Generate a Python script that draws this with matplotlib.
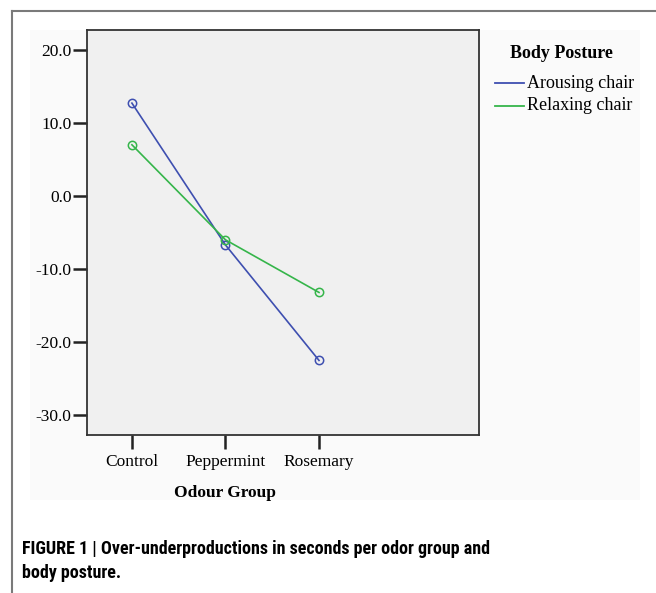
import matplotlib.pyplot as plt
from matplotlib.lines import Line2D
from matplotlib.patches import Rectangle

groups = ['Control', 'Peppermint', 'Rosemary']
arousing = [12.7, -6.7, -22.5]
relaxing = [7.0, -6.0, -13.2]
y_ticks = [20.0, 10.0, 0.0, -10.0, -20.0, -30.0]

BLUE = '#3e4fb0'
GREEN = '#35b54a'
SERIF = 'Liberation Serif'

fig = plt.figure(figsize=(6.56, 5.93), dpi=100)
W, H = 656, 593

def fx(px):
    return px / W

def fy(py):
    return 1 - py / H

# off-white chart region and outer frame
fig.patches.append(Rectangle((fx(30), fy(500)), fx(610), 470 / H, transform=fig.transFigure,
                             facecolor='#fafafa', edgecolor='none', zorder=-5))
fig.add_artist(Line2D([fx(12), fx(12)], [fy(11), 0], color='#7a7a7a', lw=1.5))
fig.add_artist(Line2D([fx(12), 1], [fy(11), fy(11)], color='#7a7a7a', lw=1.5))

ax = fig.add_axes([fx(87), fy(435), fx(479 - 87), (435 - 30) / H])
ax.set_zorder(2)
ax.set_facecolor('#f0f0f0')
x = range(1, len(groups) + 1)
ax.plot(x, arousing, color=BLUE, lw=1.2, marker='o', mfc='none', ms=6, mew=1.1, label='Arousing chair')
ax.plot(x, relaxing, color=GREEN, lw=1.2, marker='o', mfc='none', ms=6, mew=1.1, label='Relaxing chair')

ax.set_xlim(0.52, 4.71)
ax.set_ylim(-32.7, 22.7)
ax.set_xticks(list(x))
ax.set_xticklabels(groups)
ax.set_yticks(y_ticks)
ax.set_yticklabels([f'{v:.1f}' for v in y_ticks])
for s in ax.spines.values():
    s.set_color('#333333')
    s.set_linewidth(1.3)
ax.tick_params(axis='both', direction='out', length=10, width=1.8, color='#222222',
               labelsize=12.5, pad=1)
ax.tick_params(axis='x', pad=4)
for lab in ax.get_xticklabels() + ax.get_yticklabels():
    lab.set_family(SERIF)
ax.set_xlabel('Odour Group', family=SERIF, fontweight='bold', fontsize=12.5)
ax.xaxis.set_label_coords(2, -32.7 - 6.8, transform=ax.transData)

# legend
fig.text(fx(510), fy(54), 'Body Posture', family=SERIF, fontweight='bold',
         fontsize=13, va='center')
for i, (lab, c) in enumerate([('Arousing chair', BLUE), ('Relaxing chair', GREEN)]):
    yy = fy(83 + 23 * i)
    fig.add_artist(Line2D([fx(495), fx(524)], [yy, yy], color=c, lw=1.3))
    fig.text(fx(527), yy, lab, family=SERIF, fontsize=13, va='center')

fig.text(fx(22), fy(561), 'FIGURE 1 | Over-underproductions in seconds per odor group and\nbody posture.',
         family=['Roboto Condensed', 'Fira Sans Condensed', 'DejaVu Sans'], fontweight='bold',
         fontsize=13, va='center', linespacing=1.5)
fig.savefig('out.png', dpi=100)
